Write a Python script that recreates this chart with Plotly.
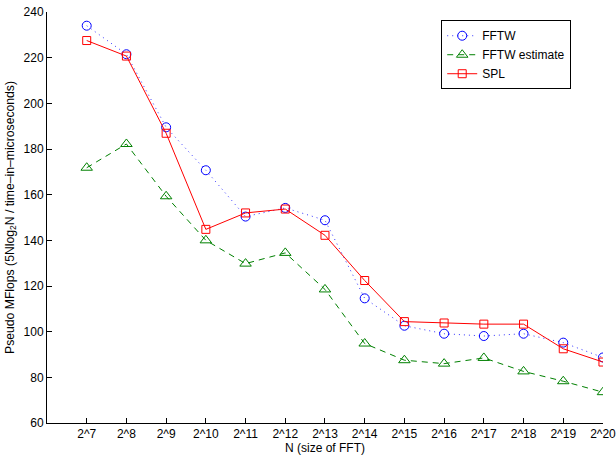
import plotly.graph_objects as go

exponents = [7, 8, 9, 10, 11, 12, 13, 14, 15, 16, 17, 18, 19, 20]
tick_labels = ["2^%d" % e for e in exponents]
fftw = [234, 221.5, 189.5, 170.7, 150.4, 154.2, 148.8, 114.6, 102.6, 99.1, 98.1, 99.1, 95.2, 88.7]
fftw_est = [171.8, 182.2, 159.3, 140.0, 129.8, 134.5, 118.5, 94.8, 87.5, 86.0, 88.5, 82.6, 78.3, 73.5]
spl = [227.5, 220.7, 186.9, 144.8, 152.0, 153.7, 142.2, 122.4, 104.4, 103.8, 103.3, 103.3, 92.5, 86.7]

fig = go.Figure()
fig.add_trace(go.Scatter(x=exponents, y=fftw, name="FFTW", mode="lines+markers",
                         line=dict(color="#3333ff", width=1, dash="1px,4px"),
                         marker=dict(symbol="circle-open", size=9, color="#0000ff", line=dict(width=1))))
fig.add_trace(go.Scatter(x=exponents, y=fftw_est, name="FFTW estimate", mode="lines+markers",
                         line=dict(color="#008000", width=1, dash="6px,5px"),
                         marker=dict(symbol="triangle-up-open", size=10, color="#008000", line=dict(width=1))))
fig.add_trace(go.Scatter(x=exponents, y=spl, name="SPL", mode="lines+markers",
                         line=dict(color="#ff0000", width=1),
                         marker=dict(symbol="square-open", size=8, color="#ff0000", line=dict(width=1))))

font = "Liberation Sans, Arial, sans-serif"
fig.update_layout(
    width=616, height=455,
    margin=dict(l=47, r=13, t=12, b=32),
    paper_bgcolor="white", plot_bgcolor="white",
    font=dict(family=font, size=12, color="black"),
    legend=dict(x=0.709, y=0.98, xanchor="left", yanchor="top",
                bordercolor="black", borderwidth=1, bgcolor="white",
                font=dict(size=12), tracegroupgap=0, itemwidth=30),
    xaxis=dict(range=[6, 20.001], tickvals=exponents, ticktext=tick_labels, automargin=False,
               ticklabeloverflow="allow",
               showgrid=False, zeroline=False, showline=True, linecolor="black", linewidth=1,
               ticks="inside", ticklen=5, tickcolor="black", tickfont=dict(size=12),
               title=dict(text="N (size of FFT)", standoff=4, font=dict(size=12))),
    yaxis=dict(range=[60, 240], tickvals=list(range(60, 241, 20)), automargin=False,
               ticklabeloverflow="allow",
               showgrid=False, zeroline=False, showline=True, linecolor="black", linewidth=1,
               ticks="inside", ticklen=5, tickcolor="black", tickfont=dict(size=12),
               title=dict(text="Pseudo MFlops (5Nlog<sub>2</sub>N / time\u2013in\u2013microseconds)", standoff=6, font=dict(size=12.2))),
)
fig.write_html("out.html", config={"displayModeBar": False},
               post_script="document.body.style.margin='0';document.body.style.overflow='hidden';")
